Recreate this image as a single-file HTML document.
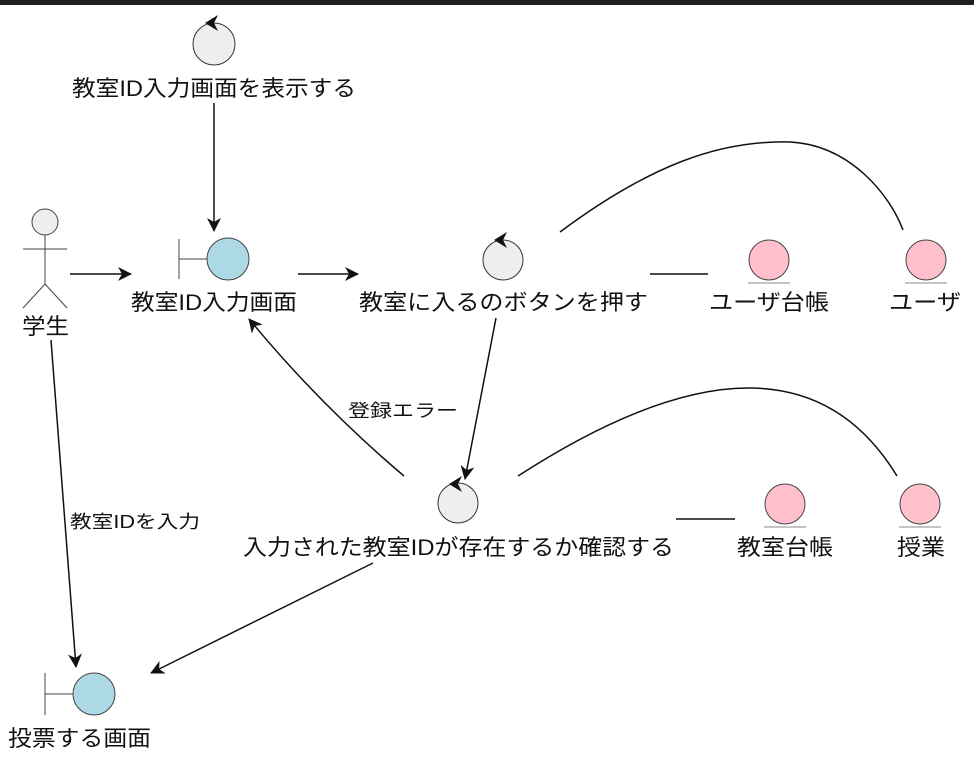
<!DOCTYPE html>
<html><head><meta charset="utf-8"><style>
html,body{margin:0;padding:0;background:#fff;}
svg{display:block;}
text{font-family:"Liberation Sans","Noto Sans CJK JP",sans-serif;font-size:22px;fill:#111;}
.s{font-size:18px;}
</style></head><body>
<svg width="974" height="758" viewBox="0 0 974 758" xmlns="http://www.w3.org/2000/svg">
<defs>
<marker id="a" viewBox="0 0 14 14" refX="13" refY="7" markerWidth="14" markerHeight="14" markerUnits="userSpaceOnUse" orient="auto">
<path d="M0,0 L14,7 L0,14 L4,7 Z" fill="#111"/>
</marker>
</defs>
<rect x="0" y="0" width="974" height="5" fill="#1e1e1e"/>
<g stroke="#111" stroke-width="1.5" fill="none">
<line x1="214" y1="103" x2="214" y2="231" marker-end="url(#a)"/>
<line x1="70" y1="274" x2="131" y2="274" marker-end="url(#a)"/>
<line x1="298" y1="274" x2="358" y2="274" marker-end="url(#a)"/>
<line x1="650" y1="274" x2="708" y2="274"/>
<path d="M560,232 C650,165 720,140 790,142 C850,145 890,195 903,230"/>
<line x1="496" y1="318" x2="465" y2="479" marker-end="url(#a)"/>
<path d="M404,476 Q320,405 249,319" marker-end="url(#a)"/>
<line x1="676" y1="519" x2="735" y2="519"/>
<path d="M518,476 Q790,300 897,476"/>
<line x1="51" y1="340" x2="76" y2="667" marker-end="url(#a)"/>
<line x1="373" y1="563" x2="151" y2="673" marker-end="url(#a)"/>
</g>
<circle cx="214" cy="44" r="21" fill="#eee" stroke="#333" stroke-width="1"/>
<path d="M205,23 L218,15 L214,23 L218,31 Z" fill="#111"/>
<text x="72" y="96" textLength="284" lengthAdjust="spacingAndGlyphs">教室ID入力画面を表示する</text>
<g stroke="#444" stroke-width="1" fill="none">
<circle cx="45" cy="222" r="13" fill="#eee"/>
<line x1="45" y1="235" x2="45" y2="284"/>
<line x1="23" y1="249" x2="67" y2="249"/>
<line x1="45" y1="284" x2="23" y2="308"/>
<line x1="45" y1="284" x2="67" y2="308"/>
</g>
<text x="22" y="334" textLength="47" lengthAdjust="spacingAndGlyphs">学生</text>
<g stroke="#444" stroke-width="1">
<line x1="179" y1="239" x2="179" y2="279"/>
<line x1="179" y1="259" x2="207" y2="259"/>
<circle cx="228" cy="259" r="21" fill="#add8e6"/>
</g>
<text x="131" y="310" textLength="166" lengthAdjust="spacingAndGlyphs">教室ID入力画面</text>
<circle cx="503" cy="260" r="20" fill="#eee" stroke="#333" stroke-width="1"/>
<path d="M494,240 L507,232 L503,240 L507,248 Z" fill="#111"/>
<text x="359" y="310" textLength="289" lengthAdjust="spacingAndGlyphs">教室に入るのボタンを押す</text>
<g stroke="#444" stroke-width="1">
<circle cx="769" cy="260" r="20" fill="#ffc0cb"/>
<line x1="748" y1="283" x2="790" y2="283" stroke="#888"/>
<circle cx="926" cy="260" r="20" fill="#ffc0cb"/>
<line x1="905" y1="283" x2="947" y2="283" stroke="#888"/>
<circle cx="785" cy="504" r="20" fill="#ffc0cb"/>
<line x1="764" y1="527" x2="806" y2="527" stroke="#888"/>
<circle cx="920" cy="504" r="20" fill="#ffc0cb"/>
<line x1="899" y1="527" x2="941" y2="527" stroke="#888"/>
</g>
<text x="709" y="310" textLength="120" lengthAdjust="spacingAndGlyphs">ユーザ台帳</text>
<text x="889" y="310" textLength="72" lengthAdjust="spacingAndGlyphs">ユーザ</text>
<text x="737" y="555" textLength="96" lengthAdjust="spacingAndGlyphs">教室台帳</text>
<text x="897" y="555" textLength="48" lengthAdjust="spacingAndGlyphs">授業</text>
<circle cx="458" cy="503" r="20" fill="#eee" stroke="#333" stroke-width="1"/>
<path d="M449,484 L462,476 L458,484 L462,492 Z" fill="#111"/>
<text x="243" y="555" textLength="431" lengthAdjust="spacingAndGlyphs">入力された教室IDが存在するか確認する</text>
<text class="s" x="348" y="417" textLength="110" lengthAdjust="spacingAndGlyphs">登録エラー</text>
<text class="s" x="70" y="528" textLength="130" lengthAdjust="spacingAndGlyphs">教室IDを入力</text>
<g stroke="#444" stroke-width="1">
<line x1="45" y1="673" x2="45" y2="715"/>
<line x1="45" y1="694" x2="73" y2="694"/>
<circle cx="94" cy="694" r="21" fill="#add8e6"/>
</g>
<text x="8" y="746" textLength="143" lengthAdjust="spacingAndGlyphs">投票する画面</text>
</svg>
</body></html>
